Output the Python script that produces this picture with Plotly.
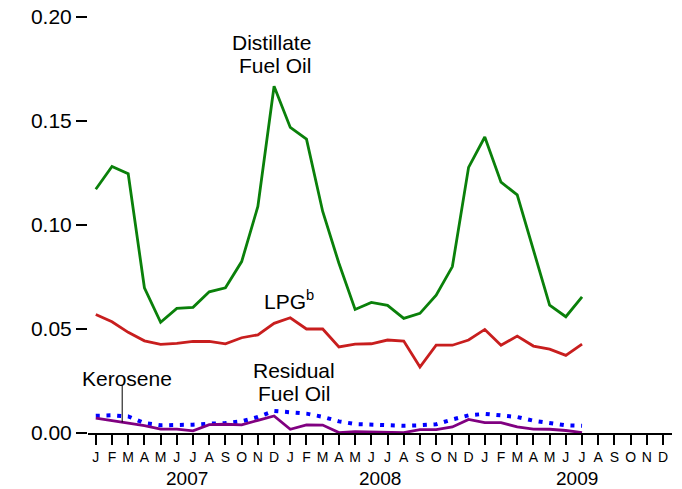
import plotly.graph_objects as go

# monthly index: 0 = Jan 2007 ... 30 = Jul 2009
months = ["J", "F", "M", "A", "M", "J", "J", "A", "S", "O", "N", "D"] * 3
years = ["2007", "2008", "2009"]
year_pos = [5.64, 17.55, 29.7]

distillate = [0.1172, 0.1281, 0.1246, 0.0698, 0.0532, 0.0599, 0.0604, 0.0679,
              0.0698, 0.0824, 0.1089, 0.1667, 0.1469, 0.1413, 0.1065, 0.0816,
              0.0594, 0.0628, 0.0614, 0.0551, 0.0575, 0.0663, 0.0800, 0.1277,
              0.1423, 0.1206, 0.1145, 0.0880, 0.0615, 0.0559, 0.0655]
lpg = [0.0570, 0.0535, 0.0484, 0.0443, 0.0426, 0.0431, 0.0440, 0.0440,
       0.0429, 0.0458, 0.0472, 0.0527, 0.0554, 0.0500, 0.0500, 0.0414,
       0.0427, 0.0429, 0.0447, 0.0442, 0.0317, 0.0422, 0.0422, 0.0447,
       0.0498, 0.0422, 0.0466, 0.0418, 0.0403, 0.0373, 0.0427]
kerosene = [0.0083, 0.0085, 0.0080, 0.0048, 0.0037, 0.0037, 0.0040, 0.0045,
            0.0048, 0.0056, 0.0077, 0.0106, 0.0100, 0.0093, 0.0078, 0.0056,
            0.0043, 0.0040, 0.0040, 0.0035, 0.0037, 0.0042, 0.0065, 0.0085,
            0.0092, 0.0084, 0.0077, 0.0059, 0.0048, 0.0037, 0.0035]
residual = [0.0072, 0.0061, 0.0050, 0.0036, 0.0019, 0.0019, 0.0010, 0.0040,
            0.0042, 0.0039, 0.0061, 0.0082, 0.0018, 0.0039, 0.0038, 0.0002,
            0.0007, 0.0005, 0.0002, 0.0002, 0.0016, 0.0016, 0.0029, 0.0065,
            0.0050, 0.0050, 0.0029, 0.0019, 0.0018, 0.0012, 0.0002]

FONT = "Liberation Sans, Arial, sans-serif"

fig = go.Figure()
x = list(range(len(distillate)))
fig.add_trace(go.Scatter(x=x, y=distillate, mode="lines",
                         line=dict(color="#0a800a", width=2.8)))
fig.add_trace(go.Scatter(x=x, y=lpg, mode="lines",
                         line=dict(color="#c81e1e", width=2.8)))
fig.add_trace(go.Scatter(x=x, y=kerosene, mode="lines",
                         line=dict(color="#0000ff", width=4, dash="4px,6.7px")))
fig.add_trace(go.Scatter(x=x, y=residual, mode="lines",
                         line=dict(color="#800080", width=2.8)))

# series labels
fig.add_annotation(x=13.41, y=0.1877, text="Distillate", xanchor="right")
fig.add_annotation(x=13.41, y=0.1765, text="Fuel Oil", xanchor="right")
fig.add_annotation(x=11.93, y=0.0638, text="LPG<sup>b</sup>")
fig.add_annotation(x=12.25, y=0.0302, text="Residual")
fig.add_annotation(x=12.25, y=0.0192, text="Fuel Oil")
fig.add_annotation(x=1.93, y=0.0263, text="Kerosene")
fig.update_annotations(showarrow=False, font=dict(family=FONT, size=21, color="black"))

fig.add_shape(type="line", xref="x", yref="y", x0=1.63, x1=1.63, y0=0.0229, y1=0.0051,
              line=dict(color="black", width=1))

for yr, xp in zip(years, year_pos):
    fig.add_annotation(x=xp, y=0, xref="x", yref="paper", yanchor="middle", yshift=-45,
                       text=yr, showarrow=False,
                       font=dict(family=FONT, size=19, color="black"))

# page body has an 8px margin, so the figure is sized to the visible area
fig.update_layout(
    width=674, height=481,
    margin=dict(l=80, r=10, t=9, b=56),
    plot_bgcolor="white", paper_bgcolor="white",
    showlegend=False,
    font=dict(family=FONT, color="black"),
)
fig.update_xaxes(
    range=[-0.48, 35.55], tickvals=list(range(36)), ticktext=months,
    ticks="outside", ticklen=10, tickwidth=2, tickcolor="black", automargin=False,
    showline=True, linecolor="black", linewidth=2, showgrid=False, zeroline=False,
    tickfont=dict(size=14, family=FONT), tickangle=0,
)
fig.update_yaxes(
    range=[0, 0.2], tickvals=[0, 0.05, 0.1, 0.15, 0.2], tickformat=".2f",
    ticks="outside", ticklen=11, tickwidth=2, tickcolor="black", automargin=False,
    showline=False, showgrid=False, zeroline=False, ticklabeloverflow="allow",
    tickfont=dict(size=21, family=FONT),
)

fig.write_html("out.html")
